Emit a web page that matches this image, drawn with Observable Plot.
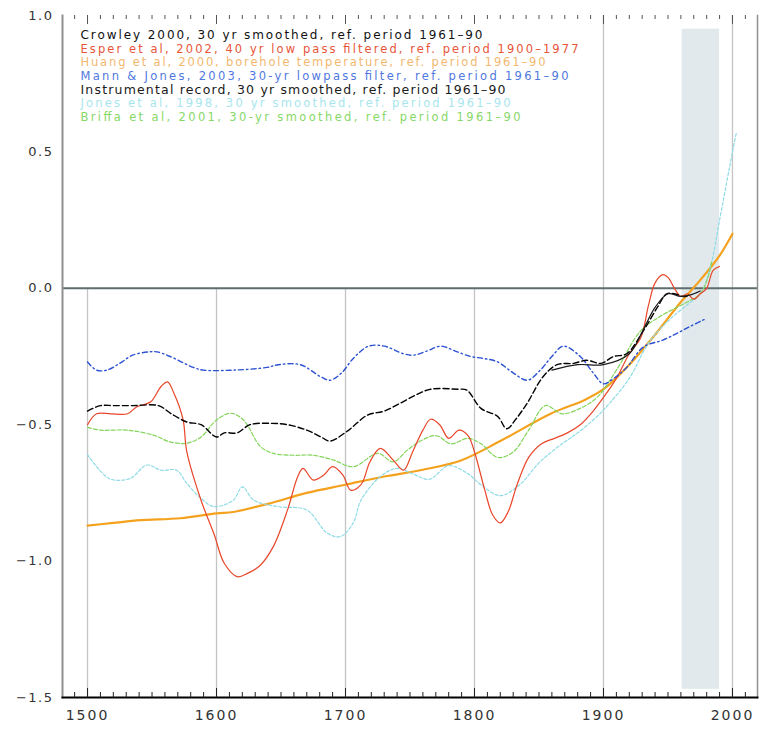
<!DOCTYPE html>
<html><head><meta charset="utf-8">
<script src="https://cdn.jsdelivr.net/npm/d3@7"></script>
<script src="https://cdn.jsdelivr.net/npm/@observablehq/plot@0.6"></script>
<style>
body{margin:0;background:#fff} svg{display:block}
svg g.xlab text{letter-spacing:2px}
svg g.ylab text{letter-spacing:1.5px}
</style>
</head><body><div id="chart"></div>
<script>
// ---- data ----
const crowleyYears = [1500,1510,1520,1535,1555,1565,1577,1588,1600,1606,1616,1626,1642,1655,1670,1681,1688,1701,1717,1730,1743,1755,1766,1787,1794,1805,1818,1825,1832,1841,1853,1864,1877,1887,1898,1908,1918,1931,1942,1949,1955,1962,1967];
const crowleyVals  = [-0.45,-0.43,-0.43,-0.43,-0.43,-0.46,-0.49,-0.5,-0.545,-0.53,-0.53,-0.5,-0.495,-0.5,-0.52,-0.545,-0.56,-0.525,-0.465,-0.45,-0.42,-0.39,-0.37,-0.37,-0.373,-0.44,-0.47,-0.515,-0.48,-0.42,-0.325,-0.28,-0.275,-0.264,-0.275,-0.25,-0.24,-0.155,-0.068,-0.02,-0.02,-0.03,-0.025];

const esperYears = [1500,1507,1518,1531,1538,1549,1557,1562,1567,1574,1577,1588,1598,1606,1616,1624,1634,1644,1655,1663,1667,1675,1683,1690,1698,1704,1712,1719,1727,1737,1745,1752,1760,1766,1773,1780,1788,1795,1800,1808,1814,1820,1826,1833,1842,1852,1862,1872,1882,1892,1900,1910,1920,1929,1935,1940,1946,1950,1955,1960,1965,1970,1975,1980,1985,1990];
const esperVals  = [-0.5,-0.46,-0.46,-0.46,-0.435,-0.416,-0.36,-0.343,-0.385,-0.48,-0.6,-0.777,-0.9,-1.008,-1.057,-1.045,-1.015,-0.947,-0.813,-0.69,-0.66,-0.703,-0.685,-0.654,-0.685,-0.74,-0.72,-0.636,-0.587,-0.63,-0.667,-0.6,-0.52,-0.48,-0.5,-0.55,-0.52,-0.54,-0.6,-0.74,-0.83,-0.86,-0.82,-0.72,-0.62,-0.57,-0.55,-0.53,-0.5,-0.45,-0.4,-0.33,-0.24,-0.18,-0.06,0.02,0.05,0.04,0.0,-0.03,-0.02,-0.04,-0.02,0.0,0.066,0.08];

const huangYears = [1500,1520,1541,1572,1600,1613,1640,1670,1700,1730,1760,1790,1820,1859,1885,1900,1920,1940,1960,1975,1990,2000];
const huangVals  = [-0.87,-0.86,-0.85,-0.843,-0.825,-0.82,-0.79,-0.75,-0.72,-0.69,-0.665,-0.63,-0.56,-0.46,-0.41,-0.37,-0.28,-0.17,-0.05,0.03,0.12,0.2];

const mannYears = [1500,1507,1515,1525,1535,1548,1554,1564,1582,1590,1613,1639,1648,1665,1681,1688,1697,1706,1718,1730,1745,1753,1763,1774,1785,1797,1807,1818,1830,1841,1851,1860,1869,1882,1892,1900,1908,1918,1931,1946,1957,1967,1977,1980];
const mannVals  = [-0.27,-0.3,-0.3,-0.275,-0.245,-0.233,-0.233,-0.25,-0.29,-0.3,-0.3,-0.29,-0.28,-0.28,-0.325,-0.337,-0.31,-0.257,-0.212,-0.212,-0.24,-0.245,-0.23,-0.212,-0.23,-0.25,-0.257,-0.27,-0.31,-0.337,-0.3,-0.25,-0.212,-0.25,-0.31,-0.35,-0.33,-0.29,-0.215,-0.19,-0.165,-0.14,-0.117,-0.11];

const instrYears = [1860,1880,1900,1920,1930,1940,1950,1960,1970,1975];
const instrVals  = [-0.3,-0.28,-0.28,-0.24,-0.16,-0.07,-0.02,-0.03,-0.02,-0.01];

const jonesYears = [1500,1510,1518,1533,1546,1557,1569,1577,1588,1598,1613,1620,1629,1647,1670,1686,1696,1706,1712,1727,1740,1752,1765,1780,1795,1805,1820,1835,1850,1865,1880,1895,1905,1920,1935,1950,1965,1975,1983,1990,2000,2003];
const jonesVals  = [-0.61,-0.67,-0.7,-0.697,-0.648,-0.667,-0.667,-0.715,-0.77,-0.8,-0.777,-0.728,-0.777,-0.8,-0.813,-0.898,-0.91,-0.86,-0.777,-0.69,-0.66,-0.68,-0.7,-0.65,-0.68,-0.72,-0.76,-0.72,-0.64,-0.58,-0.53,-0.47,-0.42,-0.33,-0.2,-0.12,-0.06,-0.02,0.08,0.25,0.5,0.57];

const briffaYears = [1500,1510,1518,1531,1551,1564,1577,1588,1600,1611,1621,1634,1644,1660,1675,1691,1706,1725,1737,1748,1758,1770,1782,1795,1805,1818,1830,1842,1855,1868,1882,1895,1910,1929,1945,1965,1975,1981,1984];
const briffaVals  = [-0.51,-0.52,-0.52,-0.52,-0.538,-0.563,-0.568,-0.545,-0.483,-0.458,-0.483,-0.58,-0.605,-0.612,-0.612,-0.63,-0.654,-0.605,-0.636,-0.593,-0.56,-0.54,-0.57,-0.55,-0.57,-0.62,-0.6,-0.52,-0.43,-0.46,-0.44,-0.4,-0.3,-0.155,-0.1,-0.05,-0.02,0.04,0.1];

const legendLabels = [
  "Crowley 2000, 30 yr smoothed, ref. period 1961–90",
  "Esper et al, 2002, 40 yr low pass filtered, ref. period 1900–1977",
  "Huang et al, 2000, borehole temperature, ref. period 1961–90",
  "Mann & Jones, 2003, 30-yr lowpass filter, ref. period 1961–90",
  "Instrumental record, 30 yr smoothed, ref. period 1961–90",
  "Jones et al, 1998, 30 yr smoothed, ref. period 1961–90",
  "Briffa et al, 2001, 30-yr smoothed, ref. period 1961–90"
];
const legendColors = ["#111111","#e8553a","#f2b870","#5078e0","#1a1a1a","#a8e6ee","#88d868"];

const xTicks = [1500,1600,1700,1800,1900,2000];
const yTicks = [1.0,0.5,0.0,-0.5,-1.0,-1.5];
const xDomain = [1480.6, 2019.4];
const yDomain = [-1.5, 1.0];
const band = [{from:1961, to:1990, lo:-1.47, hi:0.95}];

// ---- styling ----
const W = 763, H = 732, MT = 15, MB = 35, ML = 62, MR = 6;
const unitPerPx = (yDomain[1]-yDomain[0]) / (H - MT - MB);
const legendTextWidths = [402, 498, 465, 488, 425, 430, 440];
const legendFontSizes = [12, 11.5, 11.5, 11.5, 12.5, 11.5, 11.5];

// ---- build series ----
const mk = (years, vals) => years.map((y,i)=>({year:y, v:vals[i]}));
const series = [
  {data: mk(huangYears, huangVals),   stroke:"#f4a21e", width:2.2, dash:null},
  {data: mk(jonesYears, jonesVals),   stroke:"#8edbe6", width:1.2, dash:"3,2"},
  {data: mk(briffaYears, briffaVals), stroke:"#84d45c", width:1.2, dash:"4,2"},
  {data: mk(esperYears, esperVals),   stroke:"#e8462a", width:1.2, dash:null},
  {data: mk(mannYears, mannVals),     stroke:"#2c52d2", width:1.4, dash:"5,3,1.5,3"},
  {data: mk(crowleyYears, crowleyVals), stroke:"#000000", width:1.4, dash:"6,3"},
  {data: mk(instrYears, instrVals),   stroke:"#1a1a1a", width:1.2, dash:null}
];

const decades = d3.range(1490, 2020, 10);
const font = "DejaVu Sans, sans-serif";

const marks = [
  Plot.rectX(band, {x1:"from", x2:"to", y1:"lo", y2:"hi", fill:"#e1e9ec"}),
  Plot.ruleX(xTicks, {x: d=>d, y1: d => d < 1850 ? 0 : yDomain[1], y2: yDomain[0], stroke:"#c4c4c4", strokeWidth:1.3}),
  Plot.ruleY([0], {stroke:"#5e6e6e", strokeWidth:2}),
  ...series.map(s => Plot.line(s.data, {x:"year", y:"v", stroke:s.stroke, strokeWidth:s.width, strokeDasharray:s.dash, curve:"catmull-rom"})),
  Plot.frame({anchor:"left", stroke:"#909090", strokeWidth:2}),
  Plot.frame({anchor:"right", stroke:"#909090", strokeWidth:1.5}),
  Plot.frame({anchor:"bottom", stroke:"#000", strokeWidth:2}),
  // inward minor / major ticks on the bottom and top edges
  Plot.ruleX(decades, {x:d=>d, y1:yDomain[0], y2:yDomain[0] + 5*unitPerPx, stroke:"#222"}),
  Plot.ruleX(xTicks, {x:d=>d, y1:yDomain[0], y2:yDomain[0] + 9*unitPerPx, stroke:"#222"}),
  Plot.ruleX(decades, {x:d=>d, y1:yDomain[1], y2:yDomain[1] - 4*unitPerPx, stroke:"#555"}),
  Plot.ruleX(xTicks, {x:d=>d, y1:yDomain[1], y2:yDomain[1] - 9*unitPerPx, stroke:"#555"}),
  Plot.axisX({anchor:"bottom", ticks: xTicks, tickSize:0, tickPadding: 13, fontSize:14, fill:"#333", tickFormat:d=>String(d), className:"xlab"}),
  Plot.axisY({anchor:"left", ticks: yTicks, tickSize:0, tickPadding:9, fontSize:13, fill:"#333", tickFormat:d3.format(".1f"), className:"ylab"}),
  ...legendLabels.map((t,i) => Plot.text([t], {text:d=>d, frameAnchor:"top-left", textAnchor:"start", lineAnchor:"middle", dx:18, dy:20 + i*13.6, fill:legendColors[i], fontSize:legendFontSizes[i], fontFamily:font, className:"legend-" + i}))
];

const chart = Plot.plot({
  width: W, height: H,
  marginLeft: ML, marginRight: MR, marginTop: MT, marginBottom: MB,
  x: {domain: xDomain, axis: null},
  y: {domain: yDomain, axis: null},
  style: {fontFamily: font, background:"#fff"},
  marks
});
legendLabels.forEach((t,i) => {
  chart.querySelectorAll(`g.legend-${i} text`).forEach(el => {
    el.setAttribute("textLength", legendTextWidths[i]);
    el.setAttribute("lengthAdjust", "spacing");
  });
});
document.getElementById("chart").append(chart);
</script>
</body></html>
